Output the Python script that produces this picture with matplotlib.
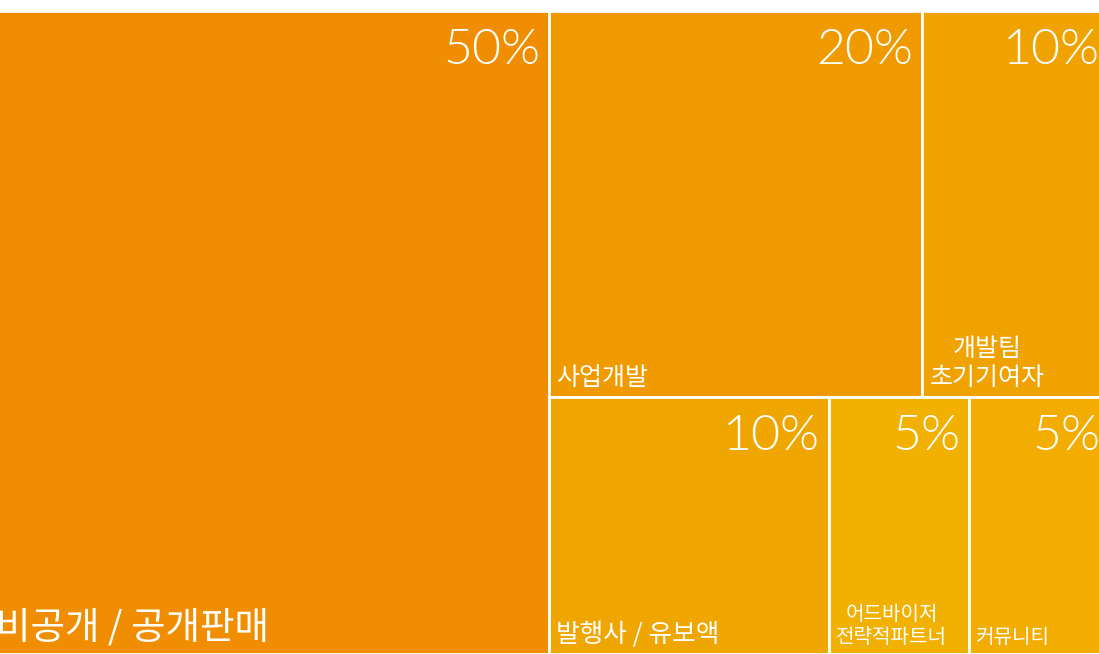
import matplotlib.pyplot as plt
from matplotlib.patches import Rectangle

plt.rcParams['font.family'] = ['Noto Sans CJK KR', 'DejaVu Sans']

# data
labels = ['비공개 / 공개판매', '사업개발', '개발팀\n초기기여자', '발행사 / 유보액', '어드바이저\n전략적파트너', '커뮤니티']
shares = [50, 20, 10, 10, 5, 5]
pct_labels = ['50%', '20%', '10%', '10%', '5%', '5%']
rows = [[1, 2], [3, 4, 5]]  # right-hand column split into rows

colors = ['#F08D00', '#F09A00', '#F0A300', '#F0A600', '#F2B000', '#F2AD00']
label_sizes = [27, 18, 18, 18.5, 14.5, 14.5]

# treemap area in pixel coords (slightly wider than the canvas, clipped)
X0, Y0, W, H = -11, 11, 1120, 643

fig = plt.figure(figsize=(10.99, 6.54), dpi=100)
ax = fig.add_axes([0, 0, 1, 1])
ax.set_xlim(0, 1099)
ax.set_ylim(654, 0)
ax.axis('off')

total = sum(shares)
boxes = {}
w0 = W * shares[0] / total
boxes[0] = (X0, Y0, w0, H)
rest = total - shares[0]
y = Y0
for row in rows:
    rs = sum(shares[i] for i in row)
    h = H * rs / rest
    x = X0 + w0
    for i in row:
        w = (W - w0) * shares[i] / rs
        boxes[i] = (x, y, w, h)
        x += w
    y += h

for i in range(len(shares)):
    x, y, w, h = boxes[i]
    ax.add_patch(Rectangle((x, y), w, h, facecolor=colors[i], edgecolor='white', lw=2))
    ax.text(x + w - 9, y + 17, pct_labels[i], color='white', fontsize=36,
            family='Lato', fontweight=300, ha='right', va='top')
    ax.text(x + 7, y + h - 6, labels[i], color='white', fontsize=label_sizes[i],
            ha='left', va='bottom', multialignment='center', linespacing=1.15)

fig.savefig('out.png', dpi=100)
